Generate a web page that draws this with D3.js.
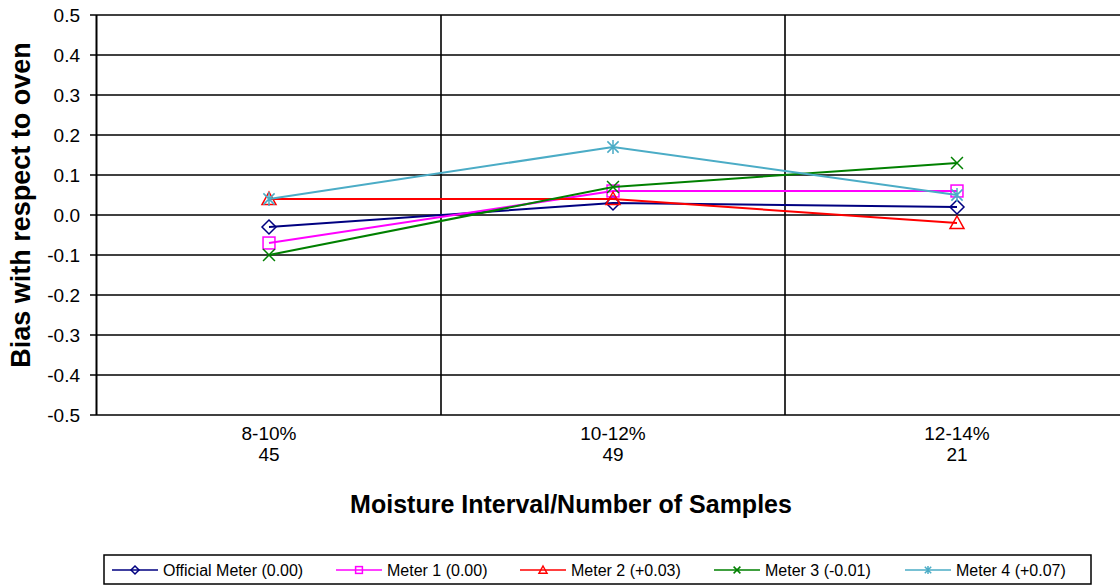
<!DOCTYPE html>
<html>
<head>
<meta charset="utf-8">
<script src="https://cdn.jsdelivr.net/npm/d3@7"></script>
<style>
  html, body { margin: 0; padding: 0; background: #fff; }
  svg { display: block; font-family: "Liberation Sans", Arial, sans-serif; }
</style>
</head>
<body>
<svg id="chart" width="1120" height="585"></svg>
<script>
// data
var categories = ["8-10%", "10-12%", "12-14%"];
var sampleCounts = ["45", "49", "21"];
var seriesNames = ["Official Meter (0.00)", "Meter 1 (0.00)", "Meter 2 (+0.03)", "Meter 3 (-0.01)", "Meter 4 (+0.07)"];
var officialMeter = [-0.03, 0.03, 0.02];
var meter1 = [-0.07, 0.06, 0.06];
var meter2 = [0.04, 0.04, -0.02];
var meter3 = [-0.10, 0.07, 0.13];
var meter4 = [0.04, 0.17, 0.05];
var yTicks = [-0.5, -0.4, -0.3, -0.2, -0.1, 0.0, 0.1, 0.2, 0.3, 0.4, 0.5];

var colors = ["#000080", "#ff00ff", "#ff0000", "#008000", "#4bacc6"];
var symbols = ["diamond", "square", "triangle", "cross", "star"];

var seriesData = [officialMeter, meter1, meter2, meter3, meter4].map(function(vals, i) {
  return {name: seriesNames[i], color: colors[i], symbol: symbols[i], values: vals};
});

var svg = d3.select("#chart"),
    margin = {top: 15, left: 97},
    plotRight = 1129,
    plotBottom = 415;

var xScale = d3.scaleBand().domain(categories).range([margin.left, plotRight]);
var yScale = d3.scaleLinear().domain([-0.5, 0.5]).range([plotBottom, margin.top]);

// horizontal grid (plus the little ticks left of the axis)
svg.append("g")
    .selectAll("line")
    .data(yTicks)
  .enter().append("line")
    .attr("x1", margin.left - 7)
    .attr("x2", 1120)
    .attr("y1", function(d) { return yScale(d); })
    .attr("y2", function(d) { return yScale(d); })
    .attr("stroke", "#000")
    .attr("stroke-width", 1.6);

// vertical grid at category boundaries
svg.append("g")
    .selectAll("line")
    .data(categories.slice(1))
  .enter().append("line")
    .attr("x1", function(d) { return xScale(d); })
    .attr("x2", function(d) { return xScale(d); })
    .attr("y1", margin.top)
    .attr("y2", plotBottom)
    .attr("stroke", "#000")
    .attr("stroke-width", 1.6);

// left axis line
svg.append("line")
    .attr("x1", margin.left - 0.5).attr("x2", margin.left - 0.5)
    .attr("y1", margin.top).attr("y2", plotBottom)
    .attr("stroke", "#000").attr("stroke-width", 2);

// y tick labels
svg.append("g")
    .selectAll("text")
    .data(yTicks)
  .enter().append("text")
    .attr("x", 80)
    .attr("y", function(d) { return yScale(d); })
    .attr("dy", "0.35em")
    .attr("text-anchor", "end")
    .style("font-size", "19px")
    .text(function(d) { return d.toFixed(1); });

// x category labels
var xl = svg.append("g")
    .selectAll("text")
    .data(categories)
  .enter().append("text")
    .attr("text-anchor", "middle")
    .style("font-size", "19px");
xl.append("tspan")
    .attr("x", function(d) { return xScale(d) + xScale.bandwidth() / 2; })
    .attr("y", 440)
    .text(function(d) { return d; });
xl.append("tspan")
    .attr("x", function(d) { return xScale(d) + xScale.bandwidth() / 2; })
    .attr("y", 461)
    .text(function(d, i) { return sampleCounts[i]; });

// axis titles
svg.append("text")
    .attr("x", 571).attr("y", 513)
    .attr("text-anchor", "middle")
    .style("font-size", "25px").style("font-weight", "bold")
    .text("Moisture Interval/Number of Samples");

svg.append("text")
    .attr("transform", "translate(30,205) rotate(-90)")
    .attr("text-anchor", "middle")
    .style("font-size", "27px").style("font-weight", "bold")
    .text("Bias with respect to oven");

// marker drawing
function drawMarker(sel, type, color, s) {
  var h = s / 2;
  if (type === "diamond") {
    sel.append("path").attr("d", "M0," + (-h) + "L" + h + ",0L0," + h + "L" + (-h) + ",0Z")
      .attr("fill", "none").attr("stroke", color).attr("stroke-width", 1.5);
  } else if (type === "square") {
    sel.append("rect").attr("x", -h * 0.85).attr("y", -h * 0.85).attr("width", s * 0.85).attr("height", s * 0.85)
      .attr("fill", "none").attr("stroke", color).attr("stroke-width", 1.5);
  } else if (type === "triangle") {
    sel.append("path").attr("d", "M0," + (-h) + "L" + h + "," + h * 0.8 + "L" + (-h) + "," + h * 0.8 + "Z")
      .attr("fill", "none").attr("stroke", color).attr("stroke-width", 1.5);
  } else if (type === "cross") {
    var c = h * 0.85;
    sel.append("path").attr("d", "M" + (-c) + "," + (-c) + "L" + c + "," + c + "M" + c + "," + (-c) + "L" + (-c) + "," + c)
      .attr("stroke", color).attr("stroke-width", 1.5);
  } else if (type === "star") {
    var c2 = h * 0.8;
    sel.append("path").attr("d", "M" + (-c2) + "," + (-c2) + "L" + c2 + "," + c2 + "M" + c2 + "," + (-c2) + "L" + (-c2) + "," + c2 +
        "M0," + (-h) + "L0," + h)
      .attr("stroke", color).attr("stroke-width", 1.5);
  }
}

var line = d3.line()
    .x(function(d, i) { return xScale(categories[i]) + xScale.bandwidth() / 2; })
    .y(function(d) { return yScale(d); });

var series = svg.selectAll(".series")
    .data(seriesData)
  .enter().append("g")
    .attr("class", "series");

series.append("path")
    .attr("d", function(d) { return line(d.values); })
    .attr("fill", "none")
    .attr("stroke", function(d) { return d.color; })
    .attr("stroke-width", 2);

series.each(function(d) {
  var g = d3.select(this);
  d.values.forEach(function(v, i) {
    var m = g.append("g")
      .attr("transform", "translate(" + (xScale(categories[i]) + xScale.bandwidth() / 2) + "," + yScale(v) + ")");
    drawMarker(m, d.symbol, d.color, 14);
  });
});

// legend
var legendX = 104, legendY = 555, legendW = 987, legendH = 29;
var legend = svg.append("g");
legend.append("rect")
    .attr("x", legendX).attr("y", legendY)
    .attr("width", legendW).attr("height", legendH)
    .attr("fill", "#fff").attr("stroke", "#000").attr("stroke-width", 1.5);

var legendStarts = [112, 336, 520, 714, 905];
var li = legend.selectAll(".item")
    .data(seriesData)
  .enter().append("g")
    .attr("class", "item")
    .attr("transform", function(d, i) { return "translate(" + legendStarts[i] + "," + (legendY + 15) + ")"; });

li.append("line")
    .attr("x1", 0).attr("x2", 46)
    .attr("stroke", function(d) { return d.color; })
    .attr("stroke-width", 1.5);
li.each(function(d) {
  var m = d3.select(this).append("g").attr("transform", "translate(23,0)");
  drawMarker(m, d.symbol, d.color, 8);
});
li.append("text")
    .attr("x", 51)
    .attr("dy", "0.35em")
    .style("font-size", "16px")
    .text(function(d) { return d.name; });
</script>
</body>
</html>
